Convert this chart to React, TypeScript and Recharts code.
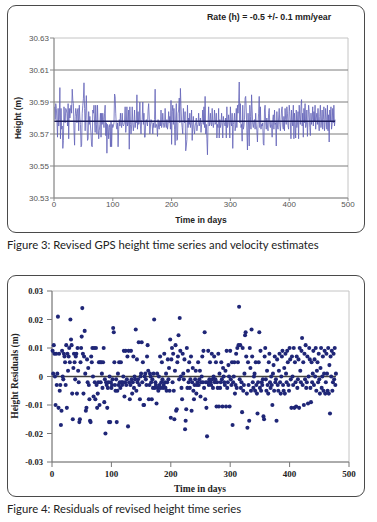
import React from 'react';
import { ComposedChart, Line, Scatter, XAxis, YAxis, ZAxis, ReferenceLine, ReferenceArea } from 'recharts';

const firstDay = 1;
const lastDay = 478;
const meanHeight = 30.578;

// residuals in millimetres, one per day from day 1
const residualsMm = [
  9, 1, 11, 8, 0, -10, 8, -3, 1, 21,
  -11, 8, -5, -3, -17, -12, 9, 0, -1, 8,
  7, 5, -3, 11, -11, 8, 2, 7, 10, 5,
  20, 13, 11, -6, -15, 3, 8, 5, -1, 7,
  8, -6, 10, 2, -2, -16, -15, 5, 10, 14,
  24, 8, -6, 7, 16, 1, -12, -11, 6, -2,
  3, -3, -8, -15.5, -16, 7, 5, 10, 0, -7,
  10, -2, -8, 10, -3, -11, -6, -2, 5, -10,
  5, -2, 5, 1, -4, 5, 10, -9, -1, -20,
  -2, -3, -11, -4, -2, -16, 0, -16, -2, -4,
  -3, -1, 17, 15.5, 5, -3, -5, -1, -16, -5,
  1, -3, 5, -2, -4, 5, -2, -3, -2, 0,
  9, -7, -2, 9, -3, -1, 7, -17.5, 9, -2,
  -8, -3, 9, -1, -6, -2, 7, -4, 0, -1,
  16.5, -5, 6, -2, -1, 12, -3, -8, 0, 1,
  12, -2, 5, -10, -10, 0, 1, -1, -3, 7,
  11, 2, -8, -3, 1, 0, -2, -8, -1, -4,
  1, 20, -4, -2, -3, -9.5, 1, -4, -5, 0,
  -3, 7, -4, -2, 5, -1, -4, -3, 8, -2,
  -4, 1, -5, -2, 6, -1, 3, -5, 13, -14.5,
  6, 10, -2, 8, -5, -15, 2, 11, -12, -11.5,
  5, 7, 14.5, -1, 20.5, 9, 0, -4, -8, 8,
  1, -1, 6, -18.5, -15.5, -11.5, 10, -4, 2, -2,
  5, -4, -1, 7, -12, -2, 3, -5, -8, -3,
  -1, 2, -6, -3, -2, 5, -3, -1, 2, -7,
  -2, 0, 7, -2, 9, -4, 15.5, -8, -2, -11,
  -21, -2, 9, -3, -1, 5, -2, -3, 8, -1,
  -4, 0, 7, -2, -1, 5, -10.5, -2, -4, 8,
  -10.5, 1, -4, -2, 5, -1, -10.5, 3, 0, -2,
  -3, 2, -10.5, 9, -4, -2, 4, 0, -10.5, 9,
  -1, -3, 5, -17, -2, 0, 5, -6, -3, 8,
  -4, 10, 5, 11, 24.5, -1, 11, -4, -2, -12.5,
  10, -5, -3, 1, 14.5, 15.5, 7, -6, -18, 5,
  -3, -15.5, 10, 3, -5, 16.5, 7, -2, -4, 0,
  1, -5, 5, -3, -6, -13, -2, 5, 15.5, -4,
  9, -5, -2, -3, -1, -14, -15, 7, 10, -1,
  -5, 2, -3, -6, 5, 8, -2, -4, 0, -3,
  -10, 1, 4, -5, 7, -2, -1, -15.5, 6, -3,
  -5, 2, 8, -2, -6, 0, 7, 9, -3, -5,
  3, -6, 8, 1, -2, 9, 5, -3, -5, 10,
  6, -1, -11, 7, 0, -3, 10, -11, 5, -2,
  -10.5, 7, -4, -1, 6, -11, 10, 2, -2, 9,
  13.5, -3, 5, -10, 8, -1, 11, -4, -2, 7,
  -9.5, 0, 10, 6, -4, -9, 5, -2, 1, 9,
  -3, 6, 0, 10, -5, 2, 5, -2, 8, -1,
  -6, 3, 10, -4, 0, 7, -5, 1, 9, -6,
  -2, 8, 1, -5, 10, -6, 4, -13, 7, 0,
  9, -5, -2, 8, -1, 10, -3, 1,
];

const dayTicks = [0, 100, 200, 300, 400, 500];
const heightTicks = [30.53, 30.55, 30.57, 30.59, 30.61, 30.63];
const heightGrid = [30.55, 30.57, 30.59, 30.61];
const residualTicks = [-0.03, -0.02, -0.01, 0, 0.01, 0.02, 0.03];

const series = residualsMm.map((mm, i) => ({
  day: firstDay + i,
  r: mm / 1000,
  h: meanHeight + mm / 1000,
}));
const meanSegment = [
  { day: 0, h: meanHeight },
  { day: lastDay, h: meanHeight },
];

const SANS = '"Liberation Sans", Arial, sans-serif';
const SERIF = '"Liberation Serif", "Times New Roman", serif';
const CAPTION = 'Lato, "Open Sans", sans-serif';

const abs = (s: React.CSSProperties): React.CSSProperties => ({ position: 'absolute', ...s });

export default function App() {
  return (
    <div style={abs({ left: 0, top: 0, width: 377, height: 522, background: '#fff', overflow: 'hidden' })}>
      {/* Figure 3 frame */}
      <div style={abs({ left: 7, top: 5, width: 356, height: 226, border: '1.5px solid #4a4a4a', borderRadius: 9 })} />
      <div style={abs({ left: 0, top: 0 })}>
        <ComposedChart width={377} height={240} data={series} margin={{ top: 38, right: 29, left: 14, bottom: 22 }}>
          <ReferenceArea x1={0} x2={500} y1={30.53} y2={30.63} fill="none" stroke="#c4c4c4" strokeWidth={1} />
          {heightGrid.map((g) => (
            <ReferenceLine key={g} y={g} stroke="#7c7c7c" strokeWidth={1} />
          ))}
          <XAxis
            type="number"
            dataKey="day"
            domain={[0, 500]}
            ticks={dayTicks}
            interval={0}
            stroke="#888"
            tickSize={3}
            tickMargin={0}
            height={20}
            tick={{ fontSize: 8, fill: '#555', fontFamily: SANS }}
          />
          <YAxis
            type="number"
            domain={[30.53, 30.63]}
            ticks={heightTicks}
            interval={0}
            width={40}
            stroke="#888"
            tickSize={4}
            tickMargin={1}
            tickFormatter={(v: number) => v.toFixed(2)}
            tick={{ fontSize: 8, fill: '#555', fontFamily: SANS }}
          />
          <Line dataKey="h" type="linear" stroke="#6262b8" strokeWidth={0.8} dot={false} isAnimationActive={false} />
          <Line data={meanSegment} dataKey="h" type="linear" stroke="#1c1c5a" strokeWidth={1.6} dot={false} isAnimationActive={false} />
        </ComposedChart>
      </div>
      <div style={abs({ left: 207, top: 12, fontFamily: SANS, fontWeight: 'bold', fontSize: 8.8, color: '#222', whiteSpace: 'nowrap' })}>
        Rate (h) = -0.5 +/- 0.1 mm/year
      </div>
      <div style={abs({ left: 18, top: 118, transform: 'translate(-50%, -50%) rotate(-90deg)', fontFamily: SANS, fontWeight: 'bold', fontSize: 8.5, color: '#222', whiteSpace: 'nowrap' })}>
        Height (m)
      </div>
      <div style={abs({ left: 201, top: 220, transform: 'translate(-50%, -50%)', fontFamily: SANS, fontWeight: 'bold', fontSize: 8.5, color: '#222', whiteSpace: 'nowrap' })}>
        Time in days
      </div>
      <div style={abs({ left: 7, top: 238, fontFamily: CAPTION, fontSize: 11.3, color: '#222', whiteSpace: 'nowrap' })}>
        Figure 3: Revised GPS height time series and velocity estimates
      </div>

      {/* Figure 4 frame */}
      <div style={abs({ left: 7, top: 275, width: 356, height: 220, border: '1.5px solid #4a4a4a', borderRadius: 9 })} />
      <div style={abs({ left: 0, top: 260 })}>
        <ComposedChart width={377} height={230} data={series} margin={{ top: 31, right: 28, left: 12, bottom: 8 }}>
          <ReferenceArea x1={0} x2={500} y1={-0.03} y2={0.03} fill="none" stroke="#c4c4c4" strokeWidth={1} />
          <XAxis
            type="number"
            dataKey="day"
            domain={[0, 500]}
            ticks={dayTicks}
            interval={0}
            stroke="#777"
            tickSize={5}
            tickMargin={4}
            height={20}
            tick={{ fontSize: 9, fill: '#222', fontFamily: SERIF, fontWeight: 'bold' }}
          />
          <YAxis
            type="number"
            dataKey="r"
            domain={[-0.03, 0.03]}
            ticks={residualTicks}
            interval={0}
            width={40}
            stroke="#777"
            tickSize={5}
            tickMargin={4}
            tickFormatter={(v: number) => (v === 0 ? '0' : v.toFixed(2))}
            tick={{ fontSize: 8.5, fill: '#222', fontFamily: SERIF, fontWeight: 'bold' }}
          />
          <ZAxis range={[13, 13]} />
          <ReferenceLine segment={[{ x: 0, y: 0 }, { x: lastDay, y: 0 }]} stroke="#404040" strokeWidth={1.6} />
          <Scatter dataKey="r" fill="#1f2677" isAnimationActive={false} />
        </ComposedChart>
      </div>
      <div style={abs({ left: 15, top: 376, transform: 'translate(-50%, -50%) rotate(-90deg)', fontFamily: SERIF, fontWeight: 'bold', fontSize: 9.5, color: '#222', whiteSpace: 'nowrap' })}>
        Height Residuals (m)
      </div>
      <div style={abs({ left: 200, top: 489, transform: 'translate(-50%, -50%)', fontFamily: SERIF, fontWeight: 'bold', fontSize: 9.5, color: '#222', whiteSpace: 'nowrap' })}>
        Time in days
      </div>
      <div style={abs({ left: 7, top: 502, fontFamily: CAPTION, fontSize: 11.3, color: '#222', whiteSpace: 'nowrap' })}>
        Figure 4: Residuals of revised height time series
      </div>
    </div>
  );
}
